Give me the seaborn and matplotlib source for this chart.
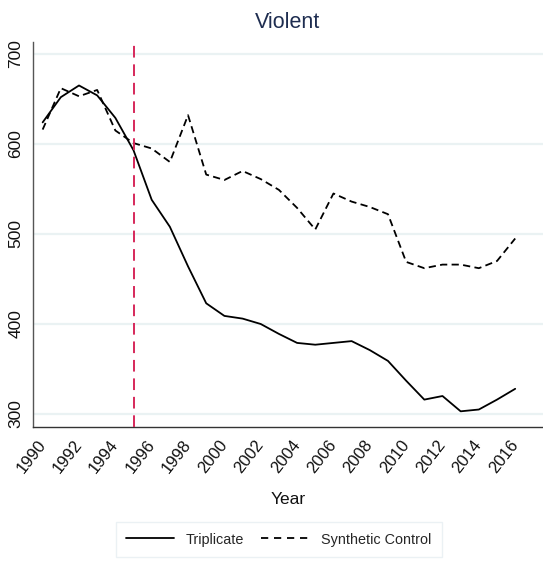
import matplotlib
matplotlib.use("Agg")
import matplotlib.pyplot as plt
from matplotlib.lines import Line2D
import seaborn as sns
import pandas as pd

years = list(range(1990, 2017))
triplicate = [624, 652, 665, 654, 629, 593, 538, 508, 464, 423, 409, 406, 400, 389,
              379, 377, 379, 381, 371, 359, 337, 316, 320, 303, 305, 316, 328]
synthetic = [616, 662, 653, 660, 615, 601, 595, 580, 632, 566, 560, 570, 561, 549,
             529, 505, 545, 536, 530, 522, 469, 462, 466, 466, 462, 470, 495]
series_names = ["Triplicate", "Synthetic Control"]
treatment_year = 1995
y_ticks = [300, 400, 500, 600, 700]
x_ticks = list(range(1990, 2017, 2))

df = pd.DataFrame({
    "Year": years * 2,
    "Rate": triplicate + synthetic,
    "Series": [series_names[0]] * len(years) + [series_names[1]] * len(years),
})

sns.set_theme(style="white")
regular = ["Liberation Sans", "DejaVu Sans"]
plt.rcParams["font.family"] = regular

fig = plt.figure(figsize=(5.43, 5.63), dpi=100)
ax = fig.add_axes([0.0608, 0.2416, 0.9392, 0.6838])

for yv in y_ticks:
    ax.axhline(yv, color="#eaf2f3", lw=1.6, zorder=0)

sns.lineplot(data=df, x="Year", y="Rate", hue="Series", style="Series",
             palette=["black", "black"],
             dashes={series_names[0]: "", series_names[1]: (4.0, 2.4)},
             linewidth=1.3, ax=ax, legend=False)

ax.axvline(treatment_year, color="#d6285a", lw=1.4, dashes=(6.0, 3.5), zorder=3)

ax.set_xlim(1989.47, 2017.53)
ax.set_ylim(285.6, 713.3)
ax.set_xticks(x_ticks)
ax.set_yticks(y_ticks)
ax.set_yticklabels([str(v) for v in y_ticks], rotation=90, va="center",
                   fontsize=12.5, color="#111111")
ax.set_xticklabels([str(v) for v in x_ticks], rotation=52, ha="right",
                   va="center", rotation_mode="anchor", fontsize=12,
                   color="#111111")
ax.tick_params(axis="y", direction="out", length=4, width=1, color="#555555", pad=3)
ax.tick_params(axis="x", direction="out", length=7, width=1, color="#555555", pad=4)

for side in ["top", "right"]:
    ax.spines[side].set_visible(False)
ax.spines["left"].set_color("#555555")
ax.spines["bottom"].set_color("#333333")
ax.spines["left"].set_linewidth(1.0)
ax.spines["bottom"].set_linewidth(1.0)

ax.set_xlabel("Year", fontsize=12.5, color="#111111", labelpad=11)
ax.set_ylabel("")
ax.set_title("Violent", fontsize=15.5, color="#1e2d50", pad=10)

handles = [Line2D([], [], color="black", lw=1.3),
           Line2D([], [], color="black", lw=1.3, dashes=(4.0, 3.2))]
leg = fig.legend(handles, series_names, loc="center", bbox_to_anchor=(0.513, 0.0417),
                 ncol=2, frameon=True, fancybox=False, handlelength=3.3,
                 columnspacing=1.2, handletextpad=0.8, borderpad=0.75,
                 borderaxespad=0.0, prop={"size": 10.4})
leg.get_frame().set_edgecolor("#e6eef2")
leg.get_frame().set_linewidth(1.0)

fig.savefig("out.png", dpi=100, facecolor="white")
